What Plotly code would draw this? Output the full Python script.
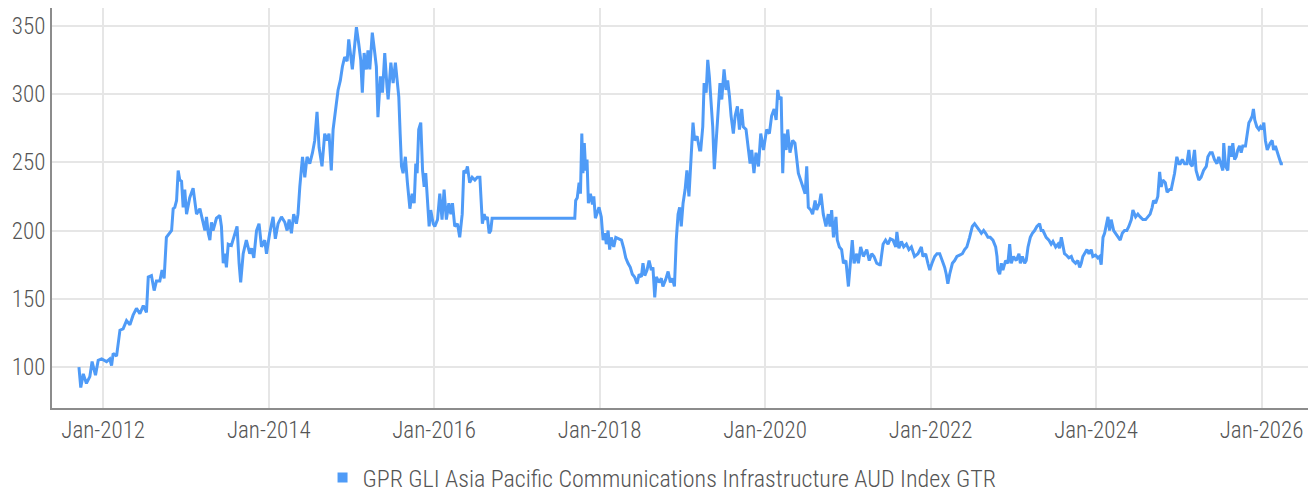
import plotly.graph_objects as go

SERIES_NAME = "GPR GLI Asia Pacific Communications Infrastructure AUD Index GTR"

dates_a = ["2011-09-16","2011-09-24","2011-10-05","2011-10-19","2011-11-03","2011-11-13","2011-11-28","2011-12-10","2011-12-25",
"2012-01-16","2012-01-30","2012-02-07","2012-02-14","2012-02-29","2012-03-15","2012-03-29","2012-04-13","2012-04-28","2012-05-12",
"2012-05-27","2012-06-11","2012-06-26","2012-07-10","2012-07-18","2012-08-01","2012-08-13","2012-08-23","2012-09-07","2012-09-17",
"2012-09-26","2012-10-06","2012-10-21","2012-10-29","2012-11-05","2012-11-12","2012-11-20","2012-11-27","2012-12-04","2012-12-12",
"2012-12-19","2012-12-26","2013-01-03","2013-01-17","2013-02-01","2013-02-09","2013-02-16","2013-03-03","2013-03-10","2013-03-25",
"2013-04-01","2013-04-09","2013-04-16","2013-04-23","2013-04-30","2013-05-15","2013-05-30","2013-06-06","2013-06-14","2013-06-21",
"2013-06-28","2013-07-06","2013-07-20","2013-08-04"]
values_a = [100,85,95,88,93,104,94,105,106,
104,106,101,110,108,127,128,134,131,138,
143,139,145,140,166,167,156,163,163,171,
165,195,198,200,216,217,222,244,237,236,
217,230,212,224,231,222,212,216,210,200,
210,198,193,206,200,209,211,203,176,183,
173,190,189,198]

dates_b = ["2013-08-14","2013-08-23","2013-08-30","2013-09-10","2013-09-24","2013-10-09","2013-10-17","2013-10-27","2013-11-08",
"2013-11-19","2013-11-30","2013-12-14","2013-12-22","2014-01-05","2014-01-20","2014-01-30","2014-02-11","2014-02-26","2014-03-13",
"2014-03-23","2014-04-01","2014-04-11","2014-04-21","2014-05-03","2014-05-10","2014-05-18","2014-05-30","2014-06-09","2014-06-19",
"2014-07-01","2014-07-13","2014-07-23","2014-08-02","2014-08-11","2014-08-24","2014-09-05","2014-09-15","2014-09-24","2014-10-04",
"2014-10-12","2014-10-24","2014-11-03","2014-11-13","2014-11-22","2014-12-02","2014-12-13","2014-12-20","2014-12-27","2015-01-05",
"2015-01-16","2015-01-23","2015-02-02","2015-02-11","2015-02-18","2015-02-26","2015-03-08","2015-03-15","2015-03-23","2015-04-03",
"2015-04-14","2015-04-21","2015-04-28","2015-05-09","2015-05-18","2015-05-28","2015-06-07","2015-06-12","2015-06-24"]
values_b = [203,176,162,183,193,183,187,180,200,
205,188,193,183,198,210,194,205,210,206,
200,208,198,212,205,212,232,254,239,254,
249,257,266,287,261,247,271,266,271,244,
274,288,303,310,320,327,324,340,332,318,
337,349,337,325,301,330,318,332,318,345,
330,320,283,313,301,330,305,296,323]

dates_c = ["2015-07-04","2015-07-14","2015-07-23","2015-07-29","2015-08-04","2015-08-10","2015-08-17","2015-08-27","2015-09-05",
"2015-09-16","2015-09-26","2015-10-05","2015-10-12","2015-10-18","2015-10-25","2015-11-03","2015-11-11","2015-11-18","2015-11-25",
"2015-12-03","2015-12-10","2015-12-17","2015-12-28","2016-01-04","2016-01-16","2016-01-26","2016-02-05","2016-02-14","2016-02-24",
"2016-03-06","2016-03-15","2016-03-22","2016-04-01","2016-04-13","2016-04-23","2016-05-04","2016-05-11","2016-05-20","2016-05-27",
"2016-06-06","2016-06-17","2016-06-29","2016-07-10","2016-07-21","2016-07-28","2016-08-01","2016-08-09","2016-08-16","2016-08-23",
"2016-08-31","2016-09-07","2016-09-13","2017-09-13"]
values_c = [308,323,305,298,271,247,242,254,235,
216,227,220,249,242,274,279,244,232,242,
217,203,215,205,203,208,227,208,230,208,
220,212,220,203,205,195,212,244,242,247,
235,239,237,239,239,222,205,212,208,210,
198,200,209,209]

dates_d = ["2017-09-17","2017-09-24","2017-10-02","2017-10-08","2017-10-14","2017-10-19","2017-10-25","2017-10-31","2017-11-06",
"2017-11-12","2017-11-21","2017-11-30","2017-12-06","2017-12-13","2017-12-20","2017-12-29","2018-01-08","2018-01-16","2018-01-25",
"2018-01-30","2018-02-07","2018-02-14","2018-02-21","2018-03-04","2018-03-13","2018-03-23","2018-04-07","2018-04-17","2018-04-26",
"2018-05-06","2018-05-16","2018-05-25","2018-06-04","2018-06-15","2018-06-24","2018-07-04","2018-07-11","2018-07-19","2018-07-29",
"2018-08-07","2018-08-17","2018-08-24","2018-09-01","2018-09-08","2018-09-20","2018-09-30","2018-10-07","2018-10-19","2018-10-30",
"2018-11-09","2018-11-18","2018-11-27","2018-12-05","2018-12-13","2018-12-20","2018-12-27","2019-01-04","2019-01-13","2019-01-21",
"2019-01-30","2019-02-05","2019-02-11","2019-02-17","2019-02-24","2019-03-07","2019-03-18"]
values_d = [222,224,235,227,271,242,264,244,252,
220,227,219,225,209,212,217,210,193,198,
190,200,186,195,188,195,194,193,187,180,
176,173,168,166,161,168,166,176,167,171,
178,171,173,151,166,162,165,159,164,170,
162,165,159,193,212,217,203,220,230,244,
225,242,259,279,266,269,259]

dates_e = ["2019-03-23","2019-04-01","2019-04-07","2019-04-16","2019-04-23","2019-04-30","2019-05-06","2019-05-15","2019-05-22",
"2019-05-30","2019-06-05","2019-06-16","2019-06-24","2019-07-04","2019-07-13","2019-07-20","2019-07-28","2019-08-04","2019-08-14",
"2019-08-22","2019-09-01","2019-09-10","2019-09-20","2019-09-27","2019-10-09","2019-10-19","2019-10-27","2019-11-03","2019-11-13",
"2019-11-22","2019-12-03","2019-12-13","2019-12-25","2020-01-08","2020-01-20","2020-01-30","2020-02-10","2020-02-19","2020-02-26",
"2020-03-04","2020-03-12","2020-03-19","2020-03-25","2020-04-03","2020-04-10","2020-04-20","2020-05-02","2020-05-12","2020-05-20",
"2020-05-27","2020-06-06","2020-06-15","2020-06-26","2020-07-03","2020-07-10","2020-07-21","2020-07-29","2020-08-09","2020-08-16",
"2020-08-28","2020-09-04","2020-09-14","2020-09-26","2020-10-06","2020-10-14","2020-10-21","2020-10-29","2020-11-09","2020-11-15",
"2020-11-24","2020-12-04","2020-12-12","2020-12-23","2021-01-03","2021-01-13","2021-01-20","2021-01-28","2021-02-09","2021-02-16",
"2021-02-26","2021-03-10","2021-03-25","2021-04-05","2021-04-16","2021-04-26","2021-05-08","2021-05-20"]
values_e = [259,276,308,301,325,313,298,276,245,
266,284,308,296,318,303,310,298,284,271,
284,291,274,289,276,274,261,249,259,242,
257,247,271,259,274,271,284,289,281,303,
296,298,242,271,259,274,257,266,264,254,
242,237,232,227,247,217,215,212,222,215,
220,227,212,203,212,203,215,195,210,193,
188,186,176,178,159,178,193,176,183,176,
188,181,186,178,183,181,176,175]

dates_f = ["2021-05-24","2021-06-05","2021-06-16","2021-06-27","2021-07-07","2021-07-19","2021-07-31","2021-08-05","2021-08-14",
"2021-08-25","2021-09-04","2021-09-16","2021-09-27","2021-10-08","2021-10-22","2021-11-06","2021-11-21","2021-11-28","2021-12-10",
"2021-12-20","2021-12-28","2022-01-07","2022-01-19","2022-01-29","2022-02-10","2022-02-21","2022-03-04","2022-03-11","2022-03-18",
"2022-03-26","2022-04-07","2022-04-17","2022-04-27","2022-05-09","2022-05-21","2022-05-31","2022-06-10","2022-06-22","2022-07-04",
"2022-07-14","2022-07-24","2022-08-05","2022-08-13","2022-08-23","2022-09-01","2022-09-11","2022-09-21","2022-10-03","2022-10-15",
"2022-10-21","2022-10-25","2022-11-02","2022-11-09","2022-11-16","2022-11-28","2022-12-08","2022-12-16","2022-12-23","2023-01-02",
"2023-01-14","2023-01-26","2023-02-01","2023-02-10","2023-02-20","2023-02-27","2023-03-07","2023-03-17","2023-03-26","2023-04-05",
"2023-04-15","2023-04-27","2023-05-04","2023-05-12","2023-05-19","2023-05-26","2023-06-07","2023-06-17","2023-06-25","2023-07-07",
"2023-07-17","2023-07-24","2023-08-01","2023-08-08","2023-08-15","2023-08-23","2023-09-03","2023-09-14","2023-09-21","2023-10-03",
"2023-10-13","2023-10-21","2023-10-28","2023-11-04","2023-11-12","2023-11-22","2023-12-01","2023-12-11","2023-12-18","2023-12-30"]
values_f = [175,190,193,190,194,193,188,199,187,
192,188,190,186,188,181,183,188,181,183,
176,171,176,181,183,183,178,173,168,161,
168,176,178,181,182,183,186,188,195,203,
205,203,200,198,200,198,195,195,193,188,
181,171,168,176,171,178,176,190,176,181,
178,183,176,181,176,178,188,195,198,200,
203,205,200,200,198,195,193,190,192,188,
190,187,195,190,183,182,180,181,178,176,
178,173,176,181,183,186,183,186,181,182]

dates_g = ["2024-01-09","2024-01-17","2024-01-24","2024-02-01","2024-02-08","2024-02-15","2024-02-23","2024-03-01","2024-03-08",
"2024-03-19","2024-03-27","2024-04-07","2024-04-17","2024-04-26","2024-05-06","2024-05-16","2024-05-25","2024-06-05","2024-06-12",
"2024-06-24","2024-07-04","2024-07-14","2024-07-26","2024-08-07","2024-08-17","2024-08-27","2024-09-05","2024-09-11","2024-09-20",
"2024-09-30","2024-10-08","2024-10-15","2024-10-22","2024-11-02","2024-11-10","2024-11-21","2024-11-28","2024-12-05","2024-12-13",
"2024-12-23","2025-01-01","2025-01-07","2025-01-16","2025-01-26","2025-02-05","2025-02-14","2025-02-20","2025-03-01","2025-03-11",
"2025-03-18","2025-03-30","2025-04-09","2025-04-20","2025-05-02","2025-05-09","2025-05-19","2025-05-28","2025-06-07","2025-06-18",
"2025-06-26","2025-07-07","2025-07-14","2025-07-18","2025-07-26","2025-08-05","2025-08-12","2025-08-20","2025-08-27","2025-09-04",
"2025-09-11","2025-09-18","2025-09-26","2025-10-03","2025-10-10","2025-10-22","2025-10-29","2025-11-06","2025-11-13","2025-11-21",
"2025-11-26","2025-12-02","2025-12-11","2025-12-20","2025-12-27","2026-01-04","2026-01-11","2026-01-18","2026-01-26","2026-02-02",
"2026-02-08","2026-02-17","2026-02-23","2026-03-03","2026-03-11","2026-03-18","2026-03-28","2026-04-05"]
values_g = [180,181,175,195,198,203,210,200,208,
200,198,195,193,198,200,200,203,208,215,
210,212,210,208,208,210,212,217,222,220,
225,243,232,237,235,228,230,230,235,242,
254,249,249,252,249,249,259,249,247,259,
244,237,239,244,247,254,257,257,252,249,
254,247,244,264,247,244,262,254,264,252,
254,259,262,257,262,262,269,279,281,284,
289,281,276,274,276,274,279,266,259,262,
264,266,259,262,257,254,249,249]

dates = dates_a + dates_b + dates_c + dates_d + dates_e + dates_f + dates_g
values = values_a + values_b + values_c + values_d + values_e + values_f + values_g

y_ticks = [100, 150, 200, 250, 300, 350]

FONT = "Roboto Condensed, Liberation Sans Narrow, DejaVu Sans Condensed, Roboto, sans-serif"
LINE_COLOR = "#4F9BF7"

fig = go.Figure()
fig.add_trace(go.Scatter(x=dates, y=values, mode="lines", name=SERIES_NAME,
                         line=dict(color=LINE_COLOR, width=3), showlegend=False))
fig.add_trace(go.Scatter(x=[None], y=[None], mode="markers", name=SERIES_NAME,
                         marker=dict(symbol="square", size=10, color=LINE_COLOR)))

fig.update_layout(
    width=1316, height=493,
    margin=dict(l=52, r=8, t=8, b=85),
    plot_bgcolor="white", paper_bgcolor="white",
    font=dict(family=FONT, size=23, color="#555555", weight=300),
    showlegend=True,
    legend=dict(orientation="h", x=0.4857, xanchor="center",
                yref="container", y=0.0304, yanchor="middle",
                font=dict(size=24, color="#555555"), itemwidth=30),
    xaxis=dict(type="date", range=["2011-05-20", "2026-07-25"],
               tick0="2012-01-01", dtick="M24", tickformat="%b-%Y",
               showgrid=True, gridcolor="#E6E6E6", gridwidth=2,
               showline=True, linecolor="#8C8C8C", linewidth=2,
               ticks="", zeroline=False, automargin=False),
    yaxis=dict(range=[70, 363], tickvals=y_ticks,
               showgrid=True, gridcolor="#E6E6E6", gridwidth=2,
               showline=True, linecolor="#8C8C8C", linewidth=2,
               ticks="", zeroline=False, automargin=False),
)

fig.write_html("out.html", config={"displayModeBar": False},
               post_script="document.body.style.margin='0';document.body.style.padding='0';")
